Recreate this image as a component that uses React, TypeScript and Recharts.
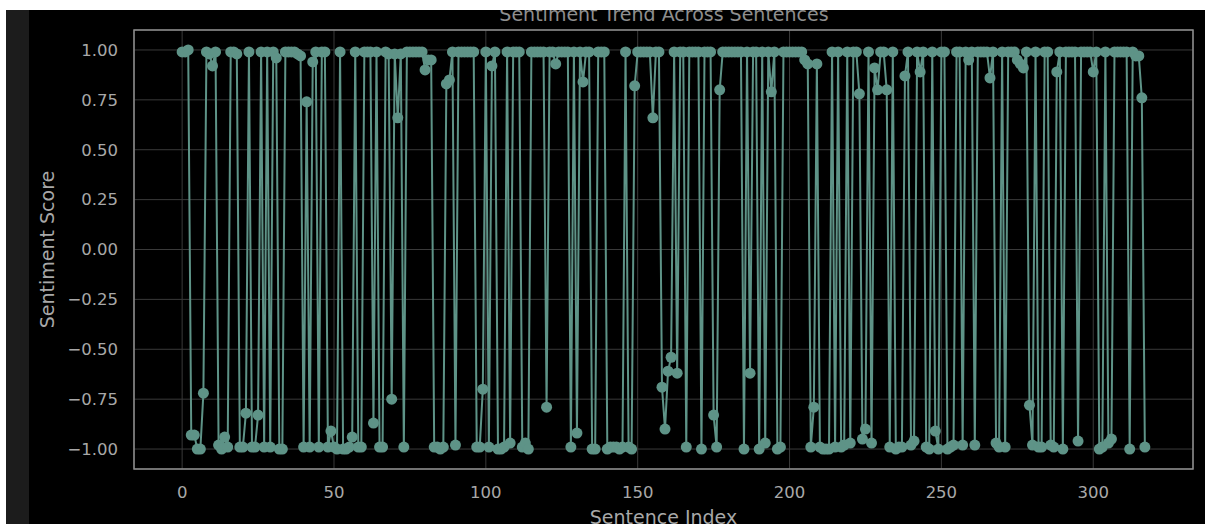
import {
  LineChart,
  Line,
  XAxis,
  YAxis,
  CartesianGrid,
  ReferenceArea,
} from "recharts";

// sentiment score per sentence, index 0..317
const sentimentScores = [
  0.99, 0.99, 1.0, -0.93, -0.93, -1.0, -1.0, -0.72, 0.99, 0.98,
  0.92, 0.99, -0.98, -1.0, -0.94, -0.99, 0.99, 0.99, 0.98, -0.99,
  -0.99, -0.82, 0.99, -0.99, -0.99, -0.83, 0.99, -0.99, 0.99, -0.99,
  0.99, 0.96, -1.0, -1.0, 0.99, 0.99, 0.99, 0.99, 0.98, 0.97,
  -0.99, 0.74, -0.99, 0.94, 0.99, -0.99, 0.99, 0.99, -0.99, -0.91,
  -0.99, -1.0, 0.99, -1.0, -1.0, -0.99, -0.94, 0.99, -0.99, -0.99,
  0.99, 0.99, 0.99, -0.87, 0.99, -0.99, -0.99, 0.99, 0.98, -0.75,
  0.98, 0.66, 0.98, -0.99, 0.99, 0.99, 0.99, 0.99, 0.99, 0.99,
  0.9, 0.95, 0.95, -0.99, -0.99, -1.0, -0.99, 0.83, 0.85, 0.99,
  -0.98, 0.99, 0.99, 0.99, 0.99, 0.99, 0.99, -0.99, -0.99, -0.7,
  0.99, -0.99, 0.92, 0.99, -1.0, -1.0, -0.99, 0.99, -0.97, 0.99,
  0.99, 0.99, -0.99, -0.97, -1.0, 0.99, 0.99, 0.99, 0.99, 0.99,
  -0.79, 0.99, 0.99, 0.93, 0.99, 0.99, 0.99, 0.99, -0.99, 0.99,
  -0.92, 0.99, 0.84, 0.99, 0.99, -1.0, -1.0, 0.99, 0.99, 0.99,
  -1.0, -0.99, -0.99, -0.99, -1.0, -0.99, 0.99, -0.99, -1.0, 0.82,
  0.99, 0.99, 0.99, 0.99, 0.99, 0.66, 0.99, 0.99, -0.69, -0.9,
  -0.61, -0.54, 0.99, -0.62, 0.99, 0.99, -0.99, 0.99, 0.99, 0.99,
  0.99, -1.0, 0.99, 0.99, 0.99, -0.83, -0.99, 0.8, 0.99, 0.99,
  0.99, 0.99, 0.99, 0.99, 0.99, -1.0, 0.99, -0.62, 0.99, 0.99,
  -1.0, 0.99, -0.97, 0.99, 0.79, 0.99, -1.0, -0.99, 0.99, 0.99,
  0.99, 0.99, 0.99, 0.99, 0.99, 0.95, 0.93, -0.99, -0.79, 0.93,
  -0.99, -1.0, -1.0, -1.0, 0.99, -0.99, 0.99, -0.99, -0.98, 0.99,
  -0.97, 0.99, 0.99, 0.78, -0.95, -0.9, 0.99, -0.97, 0.91, 0.8,
  0.99, 0.99, 0.8, -0.99, 0.99, -1.0, -0.99, -0.99, 0.87, 0.99,
  -0.98, -0.96, 0.99, 0.89, 0.99, -0.99, -1.0, 0.99, -0.91, -1.0,
  0.99, 0.99, -1.0, -0.99, -0.98, 0.99, 0.99, -0.98, 0.99, 0.95,
  0.99, -0.98, 0.99, 0.99, 0.99, 0.99, 0.86, 0.99, -0.97, -0.99,
  0.99, -0.99, 0.99, 0.99, 0.99, 0.95, 0.93, 0.91, 0.99, -0.78,
  -0.98, 0.99, -0.99, -0.99, 0.99, 0.99, -0.98, -0.99, 0.89, 0.99,
  -1.0, 0.99, 0.99, 0.99, 0.99, -0.96, 0.99, 0.99, 0.99, 0.99,
  0.89, 0.99, -1.0, -0.99, 0.99, -0.97, -0.95, 0.99, 0.99, 0.99,
  0.99, 0.99, -1.0, 0.99, 0.97, 0.97, 0.76, -0.99,
];

const xTicks = [0, 50, 100, 150, 200, 250, 300];
const yTicks = [-1, -0.75, -0.5, -0.25, 0, 0.25, 0.5, 0.75, 1];

const lastIndex = sentimentScores.length - 1;
const xDomain = [-0.05 * lastIndex, 1.05 * lastIndex];
const yDomain = [-1.1, 1.1];

const data = sentimentScores.map((score, i) => ({ index: i, score }));

const FONT = "'DejaVu Sans', sans-serif";
const TEAL = "#5e9387";

const formatY = (v: number) => v.toFixed(2).replace("-", "\u2212");

export default function App() {
  return (
    <div
      style={{
        position: "absolute",
        left: 0,
        top: 0,
        width: 1205,
        height: 525,
        background: "#fff",
        overflow: "hidden",
        fontFamily: FONT,
      }}
    >
      <div
        style={{
          position: "absolute",
          left: 6,
          top: 10,
          width: 1199,
          height: 514,
          background: "#000",
          overflow: "hidden",
        }}
      >
        <div
          style={{
            position: "absolute",
            left: 0,
            top: 0,
            width: 23,
            height: 514,
            background: "#1c1c1c",
          }}
        />
        <div style={{ position: "absolute", left: -6, top: -10 }}>
          <LineChart
            width={1205}
            height={525}
            data={data}
            margin={{ top: 30, right: 12, left: 74, bottom: 26 }}
          >
            <CartesianGrid stroke="#3a3a3a" strokeWidth={1} />
            <XAxis
              dataKey="index"
              type="number"
              domain={xDomain}
              ticks={xTicks}
              allowDataOverflow
              axisLine={false}
              tickLine={false}
              tickSize={0}
              tickMargin={17}
              height={30}
              tick={{ fill: "#a8a8a8", fontSize: 16.5, fontFamily: FONT }}
              label={{
                value: "Sentence Index",
                position: "center",
                dy: 33,
                fill: "#a8a8a8",
                fontSize: 19,
                fontFamily: FONT,
              }}
            />
            <YAxis
              type="number"
              domain={yDomain}
              ticks={yTicks}
              allowDataOverflow
              axisLine={false}
              tickLine={false}
              tickSize={0}
              tickMargin={16}
              width={60}
              tickFormatter={formatY}
              tick={{ fill: "#a8a8a8", fontSize: 16.5, fontFamily: FONT }}
              label={{
                value: "Sentiment Score",
                angle: -90,
                position: "center",
                dx: -57,
                fill: "#a8a8a8",
                fontSize: 19,
                fontFamily: FONT,
              }}
            />
            <Line
              type="linear"
              dataKey="score"
              stroke={TEAL}
              strokeWidth={2}
              dot={{ r: 5.5, fill: TEAL, stroke: "none" }}
              activeDot={false}
              isAnimationActive={false}
            />
            <ReferenceArea
              x1={xDomain[0]}
              x2={xDomain[1]}
              y1={yDomain[0]}
              y2={yDomain[1]}
              fill="none"
              stroke="#8e8e8e"
              strokeWidth={1.5}
              ifOverflow="visible"
            />
          </LineChart>
        </div>
        <svg
          width={1199}
          height={514}
          style={{ position: "absolute", left: 0, top: 0, pointerEvents: "none" }}
        >
          <text
            x={658}
            y={11}
            textAnchor="middle"
            fill="#8e8e8e"
            fontSize={19}
            fontFamily={FONT}
          >
            Sentiment Trend Across Sentences
          </text>
        </svg>
      </div>
    </div>
  );
}
